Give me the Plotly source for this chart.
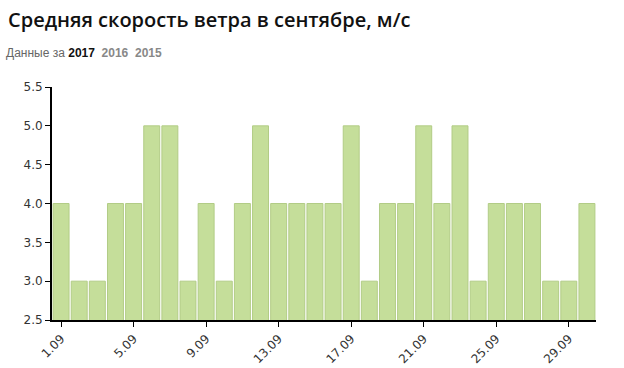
import plotly.graph_objects as go

days = list(range(1, 31))
speeds = [4, 3, 3, 4, 4, 5, 5, 3, 4, 3, 4, 5, 4, 4, 4, 4, 5, 3, 4, 4, 5, 4, 5, 3, 4, 4, 4, 3, 3, 4]
tick_days = [1, 5, 9, 13, 17, 21, 25, 29]
tick_labels = [f"{d}.09" for d in tick_days]
y_ticks = [2.5, 3.0, 3.5, 4.0, 4.5, 5.0, 5.5]
title_text = "Средняя скорость ветра в сентябре, м/с"
subtitle_prefix = "Данные за"
years = ["2017", "2016", "2015"]

fig = go.Figure(go.Bar(
    x=days, y=speeds,
    marker=dict(color="#c5de9a", line=dict(color="#b2cc86", width=1)),
    hoverinfo="x+y",
))

fig.update_layout(
    width=624, height=368,
    margin=dict(l=52, r=28, t=87, b=48, autoexpand=False),
    paper_bgcolor="white", plot_bgcolor="white",
    bargap=0.12,
    showlegend=False,
    font=dict(family="DejaVu Sans", size=12, color="#222"),
)
fig.update_xaxes(
    range=[0.5, 30.5], tickmode="array", tickvals=tick_days, ticktext=tick_labels,
    tickangle=-45, ticks="outside", ticklen=5, tickcolor="black", automargin=False,
    showline=True, linecolor="black", linewidth=2, showgrid=False, zeroline=False,
    tickfont=dict(family="DejaVu Sans", size=12, color="#333"),
)
fig.update_yaxes(
    range=[2.5, 5.5], tickmode="array", tickvals=y_ticks,
    ticktext=[f"{v:.1f}" for v in y_ticks], automargin=False,
    ticks="outside", ticklen=5, tickcolor="black",
    showline=True, linecolor="black", linewidth=2, showgrid=False, zeroline=False,
    tickfont=dict(family="DejaVu Sans", size=12, color="#333"),
)

fig.add_annotation(
    text=title_text, xref="paper", yref="paper", x=-46/544, y=1 + (87 - 20) / 233,
    xanchor="left", yanchor="middle", showarrow=False,
    font=dict(family="Open Sans", size=20, color="#111", weight=600),
)

sub = (f"<span style='color:#666'>{subtitle_prefix}</span> "
       f"<b style='color:#111'>{years[0]}</b>  "
       f"<b style='color:#888'>{years[1]}</b>  "
       f"<b style='color:#888'>{years[2]}</b>")
fig.add_annotation(
    text=sub, xref="paper", yref="paper", x=-48/544, y=1 + (87 - 53) / 233,
    xanchor="left", yanchor="middle", showarrow=False,
    font=dict(family="Liberation Sans", size=12, color="#666"),
)

fig.write_html("out.html")
